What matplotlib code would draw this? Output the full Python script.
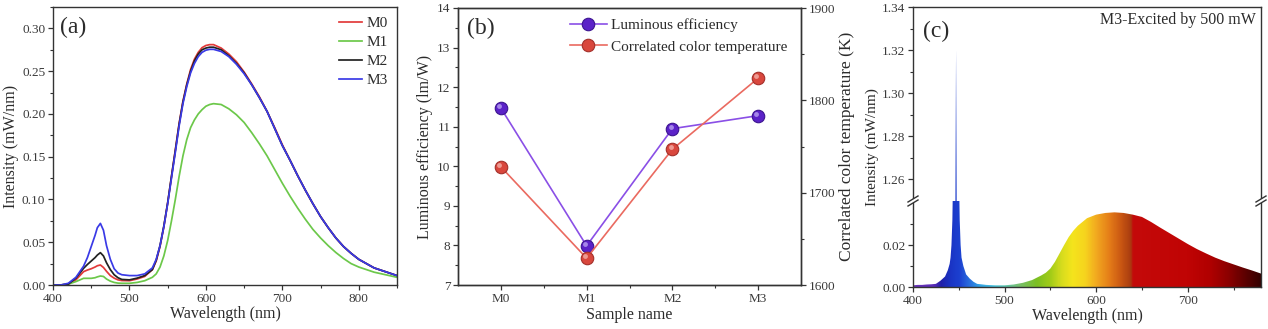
import numpy as np
import matplotlib
matplotlib.use("Agg")
import matplotlib.pyplot as plt
from matplotlib.colors import LinearSegmentedColormap
from matplotlib.lines import Line2D
from matplotlib.patches import Rectangle
from matplotlib.transforms import offset_copy
from matplotlib.ticker import MultipleLocator, FormatStrFormatter, FixedLocator

# ---------------- data: panel (a) ----------------
wl_a = [400, 410, 420, 430, 440, 445, 450, 455, 458, 462, 466, 470, 475, 480, 485, 490, 500, 510, 520,
        530, 535, 540, 545, 550, 555, 560, 565, 570, 575, 580, 585, 590, 595, 600, 605, 610, 620, 630,
        640, 650, 660, 670, 680, 690, 700, 710, 720, 730, 740, 750, 760, 770, 780, 790, 800, 820, 850]
m0 = [0.000, 0.000, 0.001, 0.006, 0.0156, 0.0175, 0.0190, 0.0210, 0.0225, 0.0234, 0.0205, 0.0160, 0.0110, 0.0080, 0.0060, 0.0052, 0.0050, 0.0070, 0.0100,
      0.0180, 0.0280, 0.0450, 0.0680, 0.0960, 0.1270, 0.1580, 0.1890, 0.2150, 0.2350, 0.2520, 0.2640, 0.2720, 0.2775, 0.2800, 0.2810, 0.2810, 0.2770, 0.2700,
      0.2610, 0.2490, 0.2350, 0.2200, 0.2030, 0.1840, 0.1640, 0.1460, 0.1280, 0.1110, 0.0950, 0.0800, 0.0670, 0.0550, 0.0450, 0.0370, 0.0300, 0.0200, 0.0110]
m1 = [0.000, 0.000, 0.001, 0.004, 0.0078, 0.0078, 0.0078, 0.0085, 0.0095, 0.0105, 0.0100, 0.0070, 0.0045, 0.0030, 0.0022, 0.0020, 0.0020, 0.0030, 0.0050,
      0.0090, 0.0130, 0.0210, 0.0340, 0.0520, 0.0750, 0.1000, 0.1270, 0.1510, 0.1700, 0.1840, 0.1930, 0.2000, 0.2050, 0.2090, 0.2110, 0.2120, 0.2110, 0.2060,
      0.1990, 0.1900, 0.1780, 0.1650, 0.1510, 0.1350, 0.1190, 0.1040, 0.0900, 0.0770, 0.0650, 0.0550, 0.0460, 0.0380, 0.0310, 0.0250, 0.0210, 0.0150, 0.0090]
m2 = [0.000, 0.000, 0.001, 0.008, 0.0195, 0.0240, 0.0280, 0.0320, 0.0350, 0.0378, 0.0340, 0.0260, 0.0180, 0.0120, 0.0085, 0.0065, 0.0060, 0.0080, 0.0110,
      0.0180, 0.0290, 0.0460, 0.0690, 0.0960, 0.1270, 0.1570, 0.1880, 0.2140, 0.2340, 0.2500, 0.2620, 0.2700, 0.2750, 0.2770, 0.2780, 0.2780, 0.2750, 0.2680,
      0.2590, 0.2480, 0.2340, 0.2190, 0.2030, 0.1830, 0.1630, 0.1460, 0.1280, 0.1110, 0.0950, 0.0800, 0.0670, 0.0550, 0.0450, 0.0370, 0.0300, 0.0200, 0.0110]
m3 = [0.000, 0.000, 0.002, 0.009, 0.0220, 0.0320, 0.0450, 0.0580, 0.0670, 0.0720, 0.0640, 0.0460, 0.0300, 0.0190, 0.0140, 0.0120, 0.0110, 0.0110, 0.0130,
      0.0200, 0.0300, 0.0460, 0.0680, 0.0950, 0.1250, 0.1550, 0.1860, 0.2120, 0.2320, 0.2480, 0.2590, 0.2670, 0.2720, 0.2745, 0.2755, 0.2755, 0.2730, 0.2670,
      0.2580, 0.2470, 0.2340, 0.2190, 0.2030, 0.1830, 0.1630, 0.1460, 0.1280, 0.1110, 0.0950, 0.0800, 0.0670, 0.0550, 0.0450, 0.0370, 0.0300, 0.0200, 0.0110]
series_a_names = ["M0", "M1", "M2", "M3"]

# ---------------- data: panel (b) ----------------
samples = ["M0", "M1", "M2", "M3"]
lum_eff = [11.47, 7.99, 10.95, 11.28]
cct = [1728, 1629, 1747, 1824]

# ---------------- data: panel (c) ----------------
wl_c = [400, 405, 410, 415, 420, 425, 430, 435, 438, 440, 441, 442, 443, 444, 445, 446, 447,
        448, 449, 450, 451, 452, 453, 455, 458, 462, 466, 470, 480, 490, 500, 510, 520, 530,
        540, 545, 550, 555, 560, 565, 570, 575, 580, 590, 600, 610, 620, 630, 640, 650, 660, 670, 680, 690, 700,
        710, 720, 730, 740, 750, 760, 770, 780]
int_c = [0.0008, 0.0010, 0.0010, 0.0012, 0.0013, 0.0015, 0.0030, 0.0050, 0.0080, 0.0110, 0.0140, 0.0200, 0.0320, 0.0600, 0.3000, 1.2200, 1.3200,
         1.2200, 0.3000, 0.0600, 0.0320, 0.0200, 0.0140, 0.0100, 0.0060, 0.0040, 0.0025, 0.0015, 0.0010, 0.0008, 0.0008, 0.0012, 0.0020, 0.0033,
         0.0055, 0.0068, 0.0088, 0.0120, 0.0160, 0.0200, 0.0238, 0.0268, 0.0292, 0.0328, 0.0345, 0.0353, 0.0356, 0.0353, 0.0345, 0.0334, 0.0310, 0.0283, 0.0257, 0.0231, 0.0205,
         0.0181, 0.0160, 0.0140, 0.0123, 0.0108, 0.0093, 0.0079, 0.0064]

# ---------------- style ----------------
plt.rcParams["font.family"] = ["Liberation Serif", "DejaVu Serif"]
plt.rcParams["axes.linewidth"] = 1.0
TXT = "#2b2b2b"
TICK = "#3a3a3a"
SPINE = "#333333"
TICKFS = 9.5
LABFS = 11.5

W, H = 1268, 329
fig = plt.figure(figsize=(W / 100, H / 100), dpi=100)


def px_axes(l, t, r, b):
    return fig.add_axes([l / W, 1 - b / H, (r - l) / W, (b - t) / H])


def style(ax):
    for s in ax.spines.values():
        s.set_color(SPINE)
    ax.tick_params(which="both", direction="out", colors=SPINE, labelcolor=TICK,
                   labelsize=TICKFS, top=False, right=False, pad=2)
    ax.tick_params(which="major", length=3.5, width=0.9)
    ax.tick_params(which="minor", length=2, width=0.8)


# ===== panel (a) =====
axa = px_axes(53, 7, 397, 285)
colors_a = ["#e23a3a", "#6cc84a", "#222222", "#3a3ae6"]
for ys, c, n in zip([m0, m1, m2, m3], colors_a, series_a_names):
    axa.plot(wl_a, ys, color=c, lw=1.25, label=n)
axa.set_xlim(400, 850)
axa.set_ylim(0, 0.325)
style(axa)
axa.xaxis.set_major_locator(MultipleLocator(100))
axa.xaxis.set_minor_locator(MultipleLocator(50))
axa.yaxis.set_major_locator(MultipleLocator(0.05))
axa.yaxis.set_minor_locator(MultipleLocator(0.025))
axa.yaxis.set_major_formatter(FormatStrFormatter("%.2f"))
axa.set_xlabel("Wavelength (nm)", fontsize=LABFS, color=TXT, labelpad=1)
axa.set_ylabel("Intensity (mW/nm)", fontsize=LABFS, color=TXT, labelpad=2)
axa.text(0.02, 0.965, "(a)", transform=axa.transAxes, fontsize=17, color=TXT, va="top", ha="left")
axa.legend(loc="upper right", frameon=False, fontsize=11, handlelength=1.5, handletextpad=0.3,
           labelspacing=0.36, borderaxespad=0.2, labelcolor=TXT)

# ===== panel (b) =====
axb = px_axes(458, 8, 801, 285)
axb2 = axb.twinx()
x = np.arange(len(samples))
l1, = axb.plot(x, lum_eff, color="#8a4fe6", lw=1.2, marker="o", ms=9,
               mfc="#5b22c8", mec="#3c1590", mew=0.8, label="Luminous efficiency", zorder=3)
l2, = axb2.plot(x, cct, color="#ea6a60", lw=1.2, marker="o", ms=9,
                mfc="#d9473d", mec="#a3302a", mew=0.8, label="Correlated color temperature", zorder=3)
# sphere highlights
axb.plot(x, lum_eff, ls="none", marker="o", ms=3.5, mfc="#b9a0f2", mec="none", alpha=0.8, zorder=4,
         transform=offset_copy(axb.transData, fig=fig, x=-1.3, y=1.5, units="points"))
axb2.plot(x, cct, ls="none", marker="o", ms=3.5, mfc="#f4b0a8", mec="none", alpha=0.8, zorder=4,
          transform=offset_copy(axb2.transData, fig=fig, x=-1.3, y=1.5, units="points"))
axb.set_xlim(-0.5, 3.5)
axb.set_ylim(7, 14)
axb2.set_ylim(1600, 1900)
style(axb)
style(axb2)
axb2.tick_params(which="both", right=True, left=False, labelright=True, labelleft=False)
axb.set_xticks(x)
axb.set_xticklabels(samples)
axb.xaxis.set_minor_locator(FixedLocator([0.5, 1.5, 2.5]))
axb.yaxis.set_major_locator(MultipleLocator(1))
axb.yaxis.set_minor_locator(MultipleLocator(0.5))
axb2.yaxis.set_major_locator(MultipleLocator(100))
axb2.yaxis.set_minor_locator(MultipleLocator(50))
axb.set_xlabel("Sample name", fontsize=LABFS, color=TXT, labelpad=2)
axb.set_ylabel("Luminous efficiency (lm/W)", fontsize=LABFS, color=TXT, labelpad=3)
axb2.set_ylabel("Correlated color temperature (K)", fontsize=12.5, color=TXT, labelpad=3)
axb.text(0.025, 0.965, "(b)", transform=axb.transAxes, fontsize=17, color=TXT, va="top", ha="left")
axb.legend([l1, l2], [l1.get_label(), l2.get_label()], loc="upper left",
           bbox_to_anchor=(0.3, 0.995), frameon=False, fontsize=11, handlelength=2.4,
           handletextpad=0.3, labelspacing=0.5, borderaxespad=0.2, labelcolor=TXT)

# ===== panel (c) =====
BREAK_Y = 201
axc_up = px_axes(913, 7, 1261, BREAK_Y)
axc_lo = px_axes(913, BREAK_Y, 1261, 287)

stops = [(400, "#6a34b8"), (422, "#5a2cb8"), (430, "#2020a8"), (440, "#1a34c4"), (450, "#1c40d0"),
         (460, "#2868dc"), (472, "#30a0e4"), (488, "#48c2dc"), (500, "#60c6b0"), (515, "#78c070"),
         (535, "#7cbf22"), (550, "#a2cc18"), (562, "#d6dc1e"), (574, "#f4e41c"), (588, "#f6d41e"),
         (600, "#f2aa20"), (615, "#e47c18"), (628, "#c85512"), (638, "#a83c10"), (640.5, "#c40a0a"),
         (700, "#c00404"), (725, "#b00000"), (745, "#8c0000"), (765, "#5a0000"), (780, "#360000")]
cmap = LinearSegmentedColormap.from_list("spec", [((w - 400) / 380, c) for w, c in stops])
grad = np.linspace(0, 1, 800).reshape(1, -1)

for ax, ylim in [(axc_up, (1.25, 1.34)), (axc_lo, (0, 0.041))]:
    poly = ax.fill_between(wl_c, 0, int_c, facecolor="none", edgecolor="none")
    im = ax.imshow(grad, extent=[400, 780, 0, 1.4], aspect="auto", cmap=cmap,
                   origin="lower", interpolation="bilinear", zorder=1)
    im.set_clip_path(poly.get_paths()[0], transform=ax.transData)
    ax.set_xlim(400, 780)
    ax.set_ylim(*ylim)
    style(ax)

axc_up.spines["bottom"].set_visible(False)
axc_lo.spines["top"].set_visible(False)
axc_up.tick_params(which="both", bottom=False, labelbottom=False)
axc_up.yaxis.set_major_locator(FixedLocator([1.26, 1.28, 1.30, 1.32, 1.34]))
axc_up.yaxis.set_minor_locator(FixedLocator([1.27, 1.29, 1.31, 1.33]))
axc_up.yaxis.set_major_formatter(FormatStrFormatter("%.2f"))
axc_lo.yaxis.set_major_locator(FixedLocator([0.0, 0.02]))
axc_lo.yaxis.set_minor_locator(FixedLocator([0.01, 0.03]))
axc_lo.yaxis.set_major_formatter(FormatStrFormatter("%.2f"))
axc_lo.xaxis.set_major_locator(MultipleLocator(100))
axc_lo.xaxis.set_minor_locator(MultipleLocator(50))
axc_lo.set_xlabel("Wavelength (nm)", fontsize=LABFS, color=TXT, labelpad=1)
fig.text(872 / W, 1 - 147 / H, "Intensity (mW/nm)", rotation=90, fontsize=11,
         color=TXT, ha="center", va="center")
axc_up.text(0.03, 0.93, "(c)", transform=axc_up.transAxes, fontsize=17, color=TXT, va="top", ha="left")
axc_up.text(0.985, 0.935, "M3-Excited by 500 mW", transform=axc_up.transAxes, fontsize=11.5,
            color=TXT, va="center", ha="right")

# break marks on both spines
for xs in (913, 1261):
    fig.add_artist(Rectangle(((xs - 2) / W, 1 - (BREAK_Y + 2) / H), 4 / W, 4 / H,
                             facecolor="white", edgecolor="none", transform=fig.transFigure, zorder=10))
    for dy in (-2, 2):
        fig.add_artist(Line2D([(xs - 5) / W, (xs + 5) / W],
                              [1 - (BREAK_Y + dy + 3) / H, 1 - (BREAK_Y + dy - 3) / H],
                              color=SPINE, lw=1.0, transform=fig.transFigure, zorder=11))

fig.savefig("out.png", dpi=100)
